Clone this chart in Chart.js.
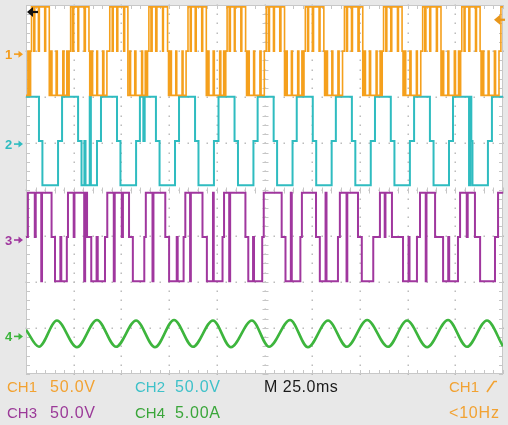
<!DOCTYPE html>
<html>
<head>
<meta charset="utf-8">
<script src="https://cdn.jsdelivr.net/npm/chart.js@4.4.0/dist/chart.umd.min.js"></script>
<style>
    html, body { margin: 0; padding: 0; background: #e8e8e8; }
    #wrap { position: relative; width: 508px; height: 425px; overflow: hidden; background: #e8e8e8; }
    #scope { position: absolute; left: 0; top: 0; }
    .lbl { position: absolute; font-family: "Liberation Sans", Arial, sans-serif; font-size: 16px; line-height: 16px; white-space: nowrap; }
    .ch { font-size: 15px; }
    .val { letter-spacing: 0.8px; }
</style>
</head>
<body>
<div id="wrap">
    <canvas id="scope" width="508" height="425"></canvas>

    <div class="lbl ch" style="left:7px; top:379px; color:#f2a232;">CH1</div>
    <div class="lbl val" style="left:50px; top:379px; color:#f2a232;">50.0V</div>
    <div class="lbl ch" style="left:135px; top:379px; color:#3ec1c9;">CH2</div>
    <div class="lbl val" style="left:175px; top:379px; color:#3ec1c9;">50.0V</div>
    <div class="lbl val" style="left:264px; top:379px; color:#1a1a1a; letter-spacing:0.5px;">M 25.0ms</div>
    <div class="lbl ch" style="left:449px; top:379px; color:#f2a232;">CH1
        <svg width="12" height="13" style="margin-left:3px; vertical-align:-1px;"><path d="M1 12 L8 1.5 L11 1.5" fill="none" stroke="#f2a232" stroke-width="1.6"/></svg>
    </div>

    <div class="lbl ch" style="left:7px; top:405px; color:#9b3a98;">CH3</div>
    <div class="lbl val" style="left:50px; top:405px; color:#9b3a98;">50.0V</div>
    <div class="lbl ch" style="left:135px; top:405px; color:#3aa63a;">CH4</div>
    <div class="lbl val" style="left:175px; top:405px; color:#3aa63a;">5.00A</div>
    <div class="lbl val" style="left:449px; top:405px; color:#f2a232;">&lt;10Hz</div>
</div>

<script>
// --- Scope settings ---
const timeSpanMs = 250;      // 10 divisions x 25.0 ms
const divisionsX = 10;
const divisionsY = 8;
const voltsPerDiv = 50;      // CH1..CH3
const ampsPerDiv = 5;        // CH4
const stepVolts = 48;        // height of one inverter level
const triggerVolts = 34;     // CH1 trigger level

// zero level of each channel, in divisions from the bottom of the screen
const ch1Offset = 7.0;
const ch2Offset = 5.05;
const ch3Offset = 2.97;
const ch4Offset = 0.88;

// --- Waveform data: [time ms, level] (level in steps of stepVolts, held until next edge) ---
const ch1Edges = [
    [0, -1], [1.0, 0], [1.6, -1], [2.4, 0],
    [2.9, 1], [4.1, 0], [4.6, 1], [6.5, 0], [7.0, 1], [9.8, 0], [10.3, 1], [12.2, -1], [13.0, 0], [13.6, -1], [15.8, 0], [16.4, -1], [19.3, 0], [19.9, -1], [21.4, 0], [22.0, -1], [22.6, 0],
    [23.4, 1], [24.4, 0], [25.0, 1], [27.2, 0], [27.6, 1], [30.5, 0], [31.1, 1], [33.0, 0], [33.4, -1], [34.1, 0], [34.9, -1], [37.1, 0], [37.5, -1], [40.2, 0], [40.8, -1], [42.4, 0],
    [43.9, 1], [45.2, 0], [45.7, 1], [47.6, 0], [48.1, 1], [51.2, 0], [51.7, 1], [53.4, -1], [54.3, 0], [54.8, -1], [57.0, 0], [57.6, -1], [60.6, 0], [61.1, -1], [62.5, 0], [63.2, -1], [63.7, 0],
    [64.4, 1], [65.5, 0], [66.1, 1], [68.0, 0], [68.6, 1], [71.6, 0], [72.0, 1], [74.2, 0], [74.7, -1], [75.5, 0], [76.2, -1], [78.5, 0], [79.0, -1], [81.8, 0], [82.3, -1], [83.9, 0],
    [84.9, 1], [86.1, 0], [86.6, 1], [88.7, 0], [89.2, 1], [92.1, 0], [92.6, 1], [94.5, -1], [95.3, 0], [95.9, -1], [98.1, 0], [98.7, -1], [101.5, 0], [102.1, -1], [103.6, 0], [104.2, -1], [104.7, 0],
    [105.4, 1], [106.5, 0], [107.1, 1], [109.2, 0], [109.6, 1], [112.6, 0], [113.1, 1], [115.1, 0], [115.6, -1], [116.4, 0], [117.0, -1], [119.3, 0], [119.8, -1], [122.6, 0], [123.2, -1], [124.9, 0],
    [125.9, 1], [127.0, 0], [127.6, 1], [129.7, 0], [130.2, 1], [133.0, 0], [133.6, 1], [135.5, -1], [136.2, 0], [136.9, -1], [139.1, 0], [139.6, -1], [142.4, 0], [143.0, -1], [144.6, 0], [145.2, -1], [145.7, 0],
    [146.4, 1], [147.6, 0], [148.1, 1], [150.1, 0], [150.7, 1], [153.6, 0], [154.1, 1], [156.1, 0], [156.5, -1], [157.3, 0], [158.0, -1], [160.3, 0], [160.8, -1], [163.5, 0], [164.1, -1], [165.9, 0],
    [166.9, 1], [168.0, 0], [168.5, 1], [170.6, 0], [171.1, 1], [174.0, 0], [174.6, 1], [176.5, -1], [177.2, 0], [177.9, -1], [180.0, 0], [180.6, -1], [183.5, 0], [184.0, -1], [185.6, 0], [186.2, -1], [186.7, 0],
    [187.4, 1], [188.6, 0], [189.1, 1], [191.2, 0], [191.7, 1], [194.7, 0], [195.2, 1], [197.1, 0], [197.6, -1], [198.4, 0], [199.0, -1], [201.2, 0], [201.8, -1], [204.6, 0], [205.1, -1], [206.9, 0],
    [207.9, 1], [209.0, 0], [209.6, 1], [211.6, 0], [212.1, 1], [215.1, 0], [215.6, 1], [217.5, -1], [218.3, 0], [218.9, -1], [221.1, 0], [221.6, -1], [224.5, 0], [225.1, -1], [226.7, 0], [227.3, -1], [227.8, 0],
    [228.4, 1], [229.6, 0], [230.1, 1], [232.1, 0], [232.6, 1], [235.6, 0], [236.1, 1], [238.0, 0], [238.5, -1], [239.3, 0], [239.9, -1], [242.2, 0], [242.7, -1], [245.5, 0], [246.1, -1], [247.9, 0],
    [248.9, 1]
];

const ch2Edges = [
    [0, 1], [6.8, 0], [8.6, -1], [16.8, 0], [18.9, 1], [27.3, 0], [29.1, -1], [30.6, 0], [31.2, -1], [33.4, 1], [34.0, -1], [37.2, 0],
    [39.3, 1], [47.7, 0], [49.5, -1], [57.7, 0], [59.7, 1], [61.5, 0], [62.2, 1], [68.1, 0], [70.0, -1], [78.1, 0],
    [80.2, 1], [88.6, 0], [90.4, -1], [98.5, 0], [100.9, 1], [109.3, 0], [111.1, -1], [119.2, 0],
    [121.4, 1], [129.8, 0], [131.6, -1], [139.7, 0], [141.9, 1], [150.3, 0], [152.1, -1], [160.2, 0],
    [162.4, 1], [170.8, 0], [172.6, -1], [180.7, 0], [182.9, 1], [191.2, 0], [193.1, -1], [201.2, 0],
    [203.4, 1], [211.7, 0], [213.6, -1], [221.7, 0], [223.8, 1], [232.2, -1], [232.9, 1], [233.4, 0], [234.0, -1], [242.1, 0],
    [244.2, 1]
];

const ch3Edges = [
    [0, 0], [1.0, 1], [4.6, 0], [5.1, 1], [8.0, -1], [8.4, 1], [13.4, 0], [15.2, -1], [18.0, 0], [18.5, -1], [21.4, 0],
    [22.0, 1], [25.0, 0], [25.4, 1], [30.5, -1], [31.0, 1], [32.0, 0], [34.2, -1], [37.0, 0], [37.6, -1], [41.4, 0],
    [42.6, 1], [46.0, -1], [46.5, 1], [50.2, 0], [50.8, 1], [54.0, 0], [56.0, -1], [62.0, 0],
    [62.8, 1], [66.3, -1], [66.8, 1], [73.0, 0], [75.0, -1], [79.0, 0], [79.5, -1], [82.6, 0],
    [83.5, 1], [86.0, -1], [86.4, 1], [92.5, 0], [94.8, -1], [98.0, 1], [98.4, -1], [103.0, 0],
    [103.8, 1], [106.5, -1], [107.0, 1], [115.0, 0], [116.5, -1], [119.0, 0], [119.5, -1], [123.8, 0],
    [124.6, 1], [134.0, 0], [136.0, -1], [138.8, 1], [139.3, -1], [143.8, 0],
    [144.6, 1], [152.0, 0], [154.0, -1], [157.0, 1], [157.5, -1], [163.5, 0],
    [164.5, 1], [168.0, -1], [168.4, 1], [174.0, 0], [176.0, -1], [182.0, 0],
    [185.5, 1], [188.0, 0], [188.4, 1], [191.8, 0], [197.6, -1], [200.5, 0], [201.0, -1], [204.9, 0],
    [206.5, 1], [209.5, -1], [209.9, 1], [214.4, 0], [218.6, -1], [221.3, 0], [221.8, -1], [226.4, 0],
    [227.5, 1], [231.0, 0], [231.5, 1], [235.3, 0], [238.0, -1], [245.8, 0], [247.4, 1]
];

// CH4 load current: turning points of the wave (ms, A)
const ch4Times = [0, 6.8, 16.2, 26.7, 37.2, 47.2, 57.7, 67.6, 77.6, 87.5, 98.0, 107.4, 118.4, 127.4, 138.4, 147.8, 158.3, 168.2, 178.8, 189.7, 199.7, 210.2, 221.2, 231.1, 241.6, 250];
const ch4Amps = [0.4, -1.45, 1.4, -1.5, 1.45, -1.45, 1.4, -1.5, 1.45, -1.45, 1.4, -1.5, 1.4, -1.45, 1.45, -1.5, 1.4, -1.45, 1.45, -1.45, 1.4, -1.5, 1.45, -1.45, 1.4, -1.4];

// --- Build chart series ---
const buildSteps = (edges, offset) => {
    const pts = edges.map(([t, level]) => ({ x: t, y: offset + level * stepVolts / voltsPerDiv }));
    pts.push({ x: timeSpanMs, y: pts[pts.length - 1].y });
    return pts;
};

const ch4Series = ch4Times.map((t, i) => ({ x: t, y: ch4Offset + ch4Amps[i] / ampsPerDiv }));

// --- Plugins: graticule, channel markers ---
const graticule = {
    id: 'graticule',
    beforeDatasetsDraw(chart) {
        const { ctx, chartArea: area, scales: { x, y } } = chart;
        ctx.save();
        ctx.fillStyle = '#ffffff';
        ctx.fillRect(area.left, area.top, area.right - area.left, area.bottom - area.top);

        const divMs = timeSpanMs / divisionsX;
        ctx.fillStyle = '#bcbcbc';
        // dotted division lines
        for (let i = 1; i < divisionsX; i++) {
            const px = Math.round(x.getPixelForValue(i * divMs));
            for (let j = 0; j <= divisionsY * 5; j++) {
                ctx.fillRect(px - 0.5, Math.round(y.getPixelForValue(j / 5)) - 0.5, 1.5, 1.5);
            }
        }
        for (let j = 1; j < divisionsY; j++) {
            const py = Math.round(y.getPixelForValue(j));
            for (let i = 0; i <= divisionsX * 5; i++) {
                ctx.fillRect(Math.round(x.getPixelForValue(i * divMs / 5)) - 0.5, py - 0.5, 1.5, 1.5);
            }
        }

        // minor ticks on centre cross and frame
        ctx.strokeStyle = '#c6c6c6';
        ctx.lineWidth = 1;
        ctx.beginPath();
        const cx = Math.round(x.getPixelForValue(timeSpanMs / 2)) + 0.5;
        const cy = Math.round(y.getPixelForValue(divisionsY / 2)) + 0.5;
        for (let j = 0; j <= divisionsY * 5; j++) {
            const py = Math.round(y.getPixelForValue(j / 5)) + 0.5;
            ctx.moveTo(cx - 3, py); ctx.lineTo(cx + 3, py);
            ctx.moveTo(area.left, py); ctx.lineTo(area.left + 4, py);
            ctx.moveTo(area.right - 4, py); ctx.lineTo(area.right, py);
        }
        for (let i = 0; i <= divisionsX * 5; i++) {
            const px = Math.round(x.getPixelForValue(i * divMs / 5)) + 0.5;
            ctx.moveTo(px, cy - 3); ctx.lineTo(px, cy + 3);
            ctx.moveTo(px, area.top); ctx.lineTo(px, area.top + 4);
            ctx.moveTo(px, area.bottom - 4); ctx.lineTo(px, area.bottom);
        }
        ctx.stroke();

        ctx.strokeStyle = '#c8c8c8';
        ctx.strokeRect(area.left + 0.5, area.top + 0.5, area.right - area.left - 1, area.bottom - area.top - 1);
        ctx.restore();
    }
};

const markers = {
    id: 'markers',
    afterDraw(chart) {
        const { ctx, chartArea: area, scales: { y } } = chart;
        const chans = [
            ['1', ch1Offset, '#f39c1c'],
            ['2', ch2Offset, '#2fbcc0'],
            ['3', ch3Offset, '#a0379e'],
            ['4', ch4Offset, '#3db53d']
        ];
        ctx.save();
        ctx.font = 'bold 13px "Liberation Sans", Arial, sans-serif';
        ctx.textBaseline = 'middle';
        chans.forEach(([num, offset, color]) => {
            const py = y.getPixelForValue(offset) + 3;
            ctx.fillStyle = color;
            ctx.strokeStyle = color;
            ctx.fillText(num, 5, py + 1);
            ctx.lineWidth = 1.6;
            ctx.beginPath();
            ctx.moveTo(14, py); ctx.lineTo(20, py);
            ctx.stroke();
            ctx.beginPath();
            ctx.moveTo(23, py); ctx.lineTo(18.5, py - 3.5); ctx.lineTo(18.5, py + 3.5);
            ctx.closePath();
            ctx.fill();
        });

        // trigger position (left) and trigger level (right)
        const arrow = (tipX, py, color) => {
            ctx.fillStyle = color;
            ctx.strokeStyle = color;
            ctx.lineWidth = 2.2;
            ctx.beginPath();
            ctx.moveTo(tipX + 4, py); ctx.lineTo(tipX + 11, py);
            ctx.stroke();
            ctx.beginPath();
            ctx.moveTo(tipX, py); ctx.lineTo(tipX + 6, py - 5); ctx.lineTo(tipX + 6, py + 5);
            ctx.closePath();
            ctx.fill();
        };
        arrow(area.left + 1, area.top + 7, '#111111');
        arrow(area.right - 9, y.getPixelForValue(ch1Offset + triggerVolts / voltsPerDiv), '#e8961a');
        ctx.restore();
    }
};

// --- Chart ---
const ctx = document.getElementById('scope').getContext('2d');
new Chart(ctx, {
    type: 'line',
    data: {
        datasets: [
            { label: 'CH1', data: buildSteps(ch1Edges, ch1Offset), borderColor: '#f5a01c', borderWidth: 1.6, stepped: true },
            { label: 'CH2', data: buildSteps(ch2Edges, ch2Offset), borderColor: '#2fbcc0', borderWidth: 2, stepped: true },
            { label: 'CH3', data: buildSteps(ch3Edges, ch3Offset), borderColor: '#a0379e', borderWidth: 2, stepped: true },
            { label: 'CH4', data: ch4Series, borderColor: '#3db53d', borderWidth: 2.6, cubicInterpolationMode: 'monotone' }
        ]
    },
    options: {
        responsive: false,
        animation: false,
        devicePixelRatio: 1,
        parsing: false,
        layout: { padding: { left: 26, right: 5, top: 5, bottom: 51 } },
        elements: { point: { radius: 0 }, line: { fill: false } },
        plugins: { legend: { display: false }, tooltip: { enabled: false } },
        scales: {
            x: { type: 'linear', min: 0, max: timeSpanMs, display: false },
            y: { type: 'linear', min: 0, max: divisionsY, display: false }
        }
    },
    plugins: [graticule, markers]
});
</script>
</body>
</html>
